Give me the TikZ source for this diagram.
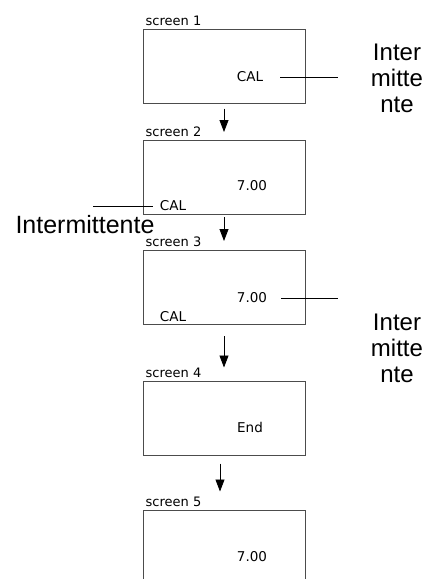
\documentclass[tikz,border=0pt]{standalone}
\usepackage{fontspec}
\newfontfamily\ecranfont{DejaVu Sans}
\newfontfamily\notefont{Liberation Sans}
\usetikzlibrary{arrows.meta}
\tikzset{
    ecran/.style={draw=black!70, line width=1pt, minimum width=162pt, minimum height=74pt, inner sep=0pt},
    titre/.style={font=\ecranfont\fontsize{13}{15}\selectfont, inner sep=3pt, anchor=south west},
    affichage/.style={font=\ecranfont\fontsize{13.5}{15}\selectfont, inner sep=1pt},
    note/.style={font=\notefont\fontsize{24}{26}\selectfont, align=center, inner sep=0pt},
    fleche/.style={-{Triangle[length=12pt,width=9pt]}, line width=0.8pt},
}
\begin{document}
\begin{tikzpicture}[x=1pt, y=-1pt]
    \useasboundingbox (0,0) rectangle (429,579);
    \clip (0,0) rectangle (429,579);
    % Ecrans
    \node[ecran, label={[titre]north west:screen 1}] (s1) at (224,66) {};
    \node[ecran, label={[titre]north west:screen 2}] (s2) at (224,177.5) {};
    \node[ecran, label={[titre]north west:screen 3}] (s3) at (224,287.5) {};
    \node[ecran, label={[titre]north west:screen 4}] (s4) at (224,418) {};
    \node[ecran, label={[titre]north west:screen 5}] (s5) at (224,547) {};
    % Affichages
    \node[affichage] (c1) at (250,77) {CAL};
    \node[affichage] (v2) at (252,186) {7.00};
    \node[affichage] (c2) at (173,206) {CAL};
    \node[affichage] (v3) at (252,298) {7.00};
    \node[affichage] (c3) at (173,317) {CAL};
    \node[affichage] (e4) at (250,427) {End};
    \node[affichage] (v5) at (252,557) {7.00};
    % Notes
    \node[note] (i1) at (397,78) {Inter\\mitte\\nte};
    \node[note, font=\notefont\fontsize{25}{27}\selectfont] (i2) at (85,225) {Intermittente};
    \node[note] (i3) at (397,348) {Inter\\mitte\\nte};
    \draw[line width=0.6pt] ([xshift=16pt]c1.east) -- ([xshift=-33pt]i1.west |- c1.east);
    \draw[line width=0.6pt] ([xshift=-6pt]c2.west) -- ([xshift=-66pt]c2.west);
    \draw[line width=0.6pt] ([xshift=13pt]v3.east) -- ([xshift=-33pt]i3.west |- v3.east);
    % Fleches
    \draw[fleche] ([yshift=-5pt]s1.south) -- ([yshift=8pt]s2.north);
    \draw[fleche] ([yshift=-2pt]s2.south) -- ([yshift=9pt]s3.north);
    \draw[fleche] ([yshift=-11pt]s3.south) -- ([yshift=13pt]s4.north);
    \draw[fleche] ([xshift=-4pt,yshift=-8pt]s4.south) -- ([xshift=-4pt,yshift=18pt]s5.north);
\end{tikzpicture}
\end{document}
